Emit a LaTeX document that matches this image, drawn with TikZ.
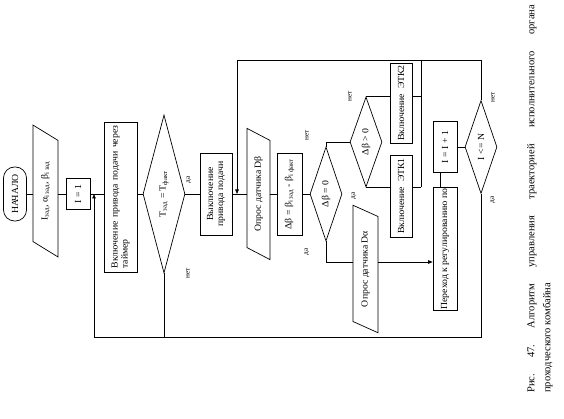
\documentclass[tikz,border=0pt]{standalone}
\usepackage{fontspec}
\setmainfont{Liberation Serif}
\newfontfamily\df[FakeStretch=1.05]{Liberation Serif}
\usetikzlibrary{shapes.geometric,arrows.meta}
\begin{document}
\begin{tikzpicture}[x=1pt,y=-1pt,
  ln/.style={line width=0.7pt},
  arr/.style={ln,-{Triangle[length=4.5pt,width=3.5pt]}},
  dfont/.style={font=\df\fontsize{9.3}{10}\selectfont},
  blk/.style={draw,ln,rotate=90,inner sep=1pt,align=center,dfont},
  dia/.style={draw,ln,diamond,rotate=90,inner sep=0pt,dfont},
  io/.style={draw,ln,trapezium,trapezium left angle=45,trapezium right angle=135,trapezium stretches=true,rotate=90,inner sep=0pt,dfont},
  lab/.style={rotate=90,inner sep=0pt,font=\df\fontsize{7}{7}\selectfont}]
\fill[white] (0,0) rectangle (564,419);
\useasboundingbox (0,0) rectangle (564,419);

\node[blk,rounded corners=11pt,minimum width=54,minimum height=23] (start) at (15,194) {НАЧАЛО};
\node[io,minimum width=132,minimum height=25] (in1) at (45.5,191) {I\textsubscript{зад}, α\textsubscript{i зад}, β\textsubscript{i зад}};
\node[blk,minimum width=31,minimum height=24] (i1) at (78,194) {I = 1};
\node[blk,minimum width=150,minimum height=33,align=left] (vkl) at (120.5,197) {\hbox to 143pt{Включение\hfil\ привода\hfil\ подачи\hfil\ через}\\таймер};
\node[dia,minimum width=158,minimum height=42,aspect=3.76] (t) at (164,194) {T\textsubscript{зад} = T\textsubscript{факт}};
\node[blk,minimum width=82,minimum height=32] (vyk) at (216,194) {Выключение\\привода подачи};
\node[io,minimum width=132,minimum height=23] (in2) at (258.5,194) {Опрос датчика Dβ};
\node[blk,minimum width=82,minimum height=25] (dd) at (289.5,194) {Δβ = β\textsubscript{i зад} - β\textsubscript{i факт}};
\node[dia,minimum width=94,minimum height=32,aspect=2.94] (z) at (326,194) {Δβ = 0};
\node[dia,minimum width=90,minimum height=32,aspect=2.81] (p) at (366,142) {Δβ > 0};
\node[blk,minimum width=80,minimum height=22] (e2) at (401,103) {Включение\ \ ЭТК2};
\node[blk,minimum width=82,minimum height=22] (e1) at (401,196) {Включение\ \ ЭТК1};
\node[io,minimum width=128,minimum height=25] (in3) at (365.5,269) {Опрос датчика Dα};
\node[blk,minimum width=118,minimum height=24] (per) at (445,249) {Переход к регулированию по};
\node[blk,minimum width=51,minimum height=24] (inc) at (445,147) {I = I + 1};
\node[dia,minimum width=93,minimum height=32,aspect=2.9] (nn) at (481,147) {I <= N};

\coordinate (m) at (421,60);
\coordinate (tl) at (237,60);
\coordinate (bl) at (94,337);
\coordinate (c1) at (326,262);
\coordinate (c2) at (440,0);

\draw[ln] (start.south) -- (start.south -| in1.north);
\draw[ln] (i1.north -| in1.south) -- (i1.north);
\draw[ln] (i1.south) -- (i1.south -| vkl.north);
\draw[ln] (vkl.south |- t.north) -- (t.north);
\draw[ln] (t.south) -- (vyk.north);
\draw[ln] (vyk.south) -- (vyk.south -| in2.north);
\draw[ln] (dd.north -| in2.south) -- (dd.north);
\draw[ln] (dd.south) -- (z.north);
\draw[ln] (z.east) |- (p.north);
\draw[ln] (p.east) -- (p.east -| e2.north);
\draw[ln] (p.west) -- (p.west -| e1.north);
\draw[ln] (p.east -| e2.south) -- (p.east -| m);
\draw[ln] (p.west -| e1.south) -- (p.west -| m);
\draw[ln] (m) -- (p.west -| m);
\draw[arr] (nn.east) |- (tl) -- (tl |- vyk.south);
\draw[ln] (z.west) -- (c1) -- (c1 -| in3.north);
\draw[arr] (c1 -| in3.south) -- (c1 -| per.north);
\draw[ln] (c2 |- per.east) -- (c2 |- inc.west);
\draw[ln] (inc.south) -- (nn.north);
\draw[arr] (nn.west) |- (bl) -- (bl |- i1.south);
\draw[ln] (t.west) -- (t.west |- bl);

\node[lab] (l1) at (189,180) {да};
\node[lab] (l2) at (188,273) {нет};
\node[lab] (l3) at (307,135) {нет};
\node[lab] (l4) at (307,252) {да};
\node[lab] (l5) at (350,96) {нет};
\node[lab] (l6) at (354,196) {да};
\node[lab] (l7) at (493,97) {нет};
\node[lab] (l8) at (493,200) {да};

\node[rotate=90,anchor=north west,inner sep=0pt,text width=388pt,align=justify,font=\fontsize{10.5}{16}\selectfont] (cap) at (527,393) {Рис.\ 47.\ Алгоритм управления траекторией исполнительного органа\linebreak проходческого комбайна};
\end{tikzpicture}
\end{document}
